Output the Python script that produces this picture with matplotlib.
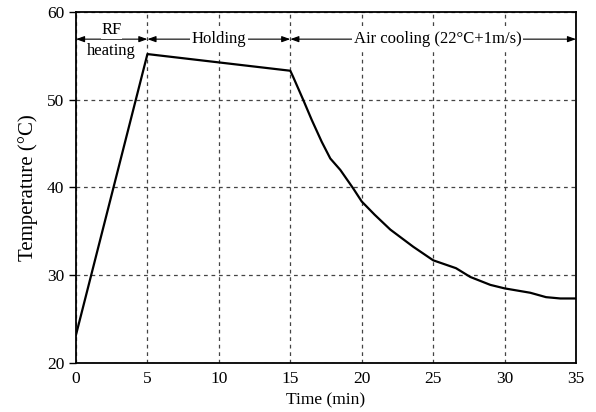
import matplotlib
matplotlib.use("Agg")
import matplotlib.pyplot as plt

time_min = [0, 5, 15, 15.2, 15.9, 16.5, 17.2, 17.8, 18.5, 19.4, 20.0, 20.9, 22.0,
            23.6, 25.0, 26.6, 27.6, 29.0, 30.0, 31.8, 32.9, 33.9, 35.0]
temp_c = [23.2, 55.2, 53.3, 52.6, 50.0, 47.7, 45.2, 43.3, 42.0, 39.9, 38.4, 36.9, 35.2,
          33.25, 31.7, 30.8, 29.8, 28.9, 28.5, 28.0, 27.5, 27.35, 27.35]

stages = ["RF\nheating", "Holding", "Air cooling (22°C+1m/s)"]
stage_bounds = [(0, 5), (5, 15), (15, 35)]

plt.rcParams['font.family'] = ['Liberation Serif', 'DejaVu Serif']

fig = plt.figure(figsize=(5.96, 4.12), dpi=100)
ax = fig.add_axes([0.1275, 0.119, 0.839, 0.852])

ax.plot(time_min, temp_c, color='black', lw=1.6, zorder=3)

ax.set_xlim(0, 35)
ax.set_ylim(20, 60)
ax.set_xticks(range(0, 36, 5))
ax.set_yticks(range(20, 61, 10))
ax.grid(True, color='#444444', linestyle=(0, (3, 3)), lw=0.9)
ax.tick_params(axis='x', length=0, pad=6, labelsize=12.5)
ax.tick_params(axis='y', direction='out', length=5, width=1, labelsize=12.5)
for s in ax.spines.values():
    s.set_linewidth(1.3)

ax.set_xlabel("Time (min)", fontsize=12.5, labelpad=4)
ax.set_ylabel("Temperature (°C)", fontsize=15, labelpad=6)

arrow_y = 56.9
for (a, b), lab in zip(stage_bounds, stages):
    ax.annotate("", xy=(a, arrow_y), xytext=(b, arrow_y),
                arrowprops=dict(arrowstyle='<|-|>,head_length=0.5,head_width=0.18',
                                color='black', lw=0.8, shrinkA=0, shrinkB=0),
                zorder=4)
    mid = (a + b) / 2
    if "\n" in lab:
        top, bot = lab.split("\n")
        ax.text(mid, arrow_y + 0.1, top, ha='center', va='bottom', fontsize=12, zorder=5,
                bbox=dict(facecolor='white', edgecolor='none', pad=0.5))
        ax.text(mid, arrow_y - 0.4, bot, ha='center', va='top', fontsize=12, zorder=5,
                bbox=dict(facecolor='white', edgecolor='none', pad=0.5))
    else:
        ax.text(mid + (0.3 if b == 35 else 0), arrow_y, lab, ha='center', va='center',
                fontsize=12, zorder=5,
                bbox=dict(facecolor='white', edgecolor='none', pad=1.5))

fig.savefig("out.png", dpi=100)
